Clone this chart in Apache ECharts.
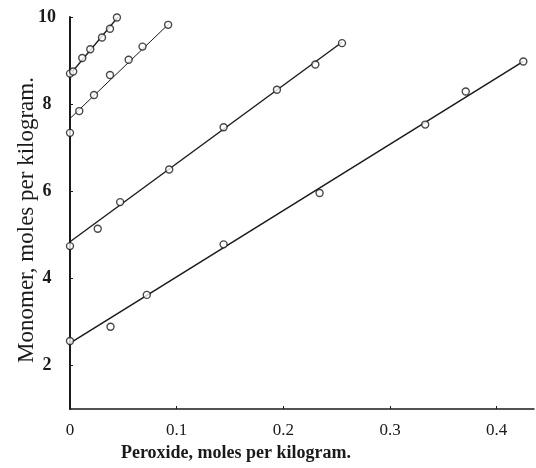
<!DOCTYPE html>
<html>
<head>
<meta charset="utf-8">
<script src="https://cdn.jsdelivr.net/npm/echarts@6/dist/echarts.min.js"></script>
<style>
  html, body { margin: 0; padding: 0; background: #fff; }
  #chart { width: 536px; height: 468px; }
</style>
</head>
<body>
<div id="chart"></div>
<script>
// measured points, 4 runs (x = peroxide, y = monomer)
var runA_x = [0, 0.038, 0.072, 0.144, 0.234, 0.333, 0.371, 0.425];
var runA_y = [2.56, 2.89, 3.62, 4.78, 5.96, 7.53, 8.29, 8.98];
var runB_x = [0, 0.026, 0.047, 0.093, 0.144, 0.194, 0.230, 0.255];
var runB_y = [4.74, 5.14, 5.75, 6.50, 7.47, 8.33, 8.91, 9.40];
var runC_x = [0, 0.0087, 0.0225, 0.0375, 0.055, 0.068, 0.092];
var runC_y = [7.34, 7.84, 8.21, 8.67, 9.02, 9.32, 9.82];
var runD_x = [0, 0.003, 0.0115, 0.019, 0.030, 0.0375, 0.044];
var runD_y = [8.70, 8.75, 9.06, 9.26, 9.53, 9.73, 9.99];

// drawn straight lines: [x0, y0, x1, y1]
var fitA = [0, 2.51, 0.425, 8.98];
var fitB = [0, 4.84, 0.255, 9.42];
var fitC = [0, 7.67, 0.093, 9.85];
var fitD = [0, 8.68, 0.045, 10.0];

var xTicks = [0, 0.1, 0.2, 0.3, 0.4];
var yTicks = [2, 4, 6, 8, 10];

var ink = '#1a1a1a';
var serif = 'Liberation Serif';

function pairs(xs, ys) {
    return xs.map(function (x, i) { return [x, ys[i]]; });
}

function pointSeries(xs, ys) {
    return {
        type: 'scatter',
        data: pairs(xs, ys),
        symbol: 'circle',
        symbolSize: 7,
        itemStyle: { color: '#fff', borderColor: ink, borderWidth: 1.4 },
        z: 3
    };
}

function fitSeries(f, w) {
    return {
        type: 'line',
        data: [[f[0], f[1]], [f[2], f[3]]],
        showSymbol: false,
        lineStyle: { color: ink, width: w },
        z: 2
    };
}

var myChart = echarts.init(document.getElementById('chart'));
var option = {
    animation: false,
    backgroundColor: '#fff',
    grid: { left: 70, top: 17, right: 2, bottom: 59, outerBoundsMode: 'none' },
    xAxis: {
        type: 'value',
        min: 0,
        max: 0.435,
        name: 'Peroxide, moles per kilogram.',
        nameLocation: 'middle',
        nameGap: 33,
        nameTextStyle: { fontFamily: serif, fontSize: 18, fontWeight: 'bold', color: ink, padding: [0, 132, 0, 0] },
        axisLine: { lineStyle: { color: ink, width: 1.5 } },
        axisTick: { inside: true, length: 3, lineStyle: { color: ink }, customValues: xTicks },
        axisLabel: { fontFamily: serif, fontSize: 17, color: ink, margin: 13, customValues: xTicks },
        splitLine: { show: false }
    },
    yAxis: {
        type: 'value',
        min: 1,
        max: 10,
        name: 'Monomer, moles per kilogram.',
        nameLocation: 'middle',
        nameRotate: 90,
        nameGap: 32,
        nameMoveOverlap: false,
        nameTextStyle: { fontFamily: serif, fontSize: 23, color: ink, padding: [0, 14, 0, 0] },
        axisLine: { show: true, lineStyle: { color: ink, width: 2 } },
        axisTick: { show: true, inside: true, length: 3, lineStyle: { color: ink }, customValues: yTicks },
        axisLabel: { fontFamily: serif, fontSize: 18, fontWeight: 'bold', color: ink, align: 'center', margin: 23, customValues: yTicks },
        splitLine: { show: false }
    },
    series: [
        fitSeries(fitA, 1.5),
        fitSeries(fitB, 1.4),
        fitSeries(fitC, 1),
        fitSeries(fitD, 1.3),
        pointSeries(runA_x, runA_y),
        pointSeries(runB_x, runB_y),
        pointSeries(runC_x, runC_y),
        pointSeries(runD_x, runD_y)
    ]
};
myChart.setOption(option);
</script>
</body>
</html>
